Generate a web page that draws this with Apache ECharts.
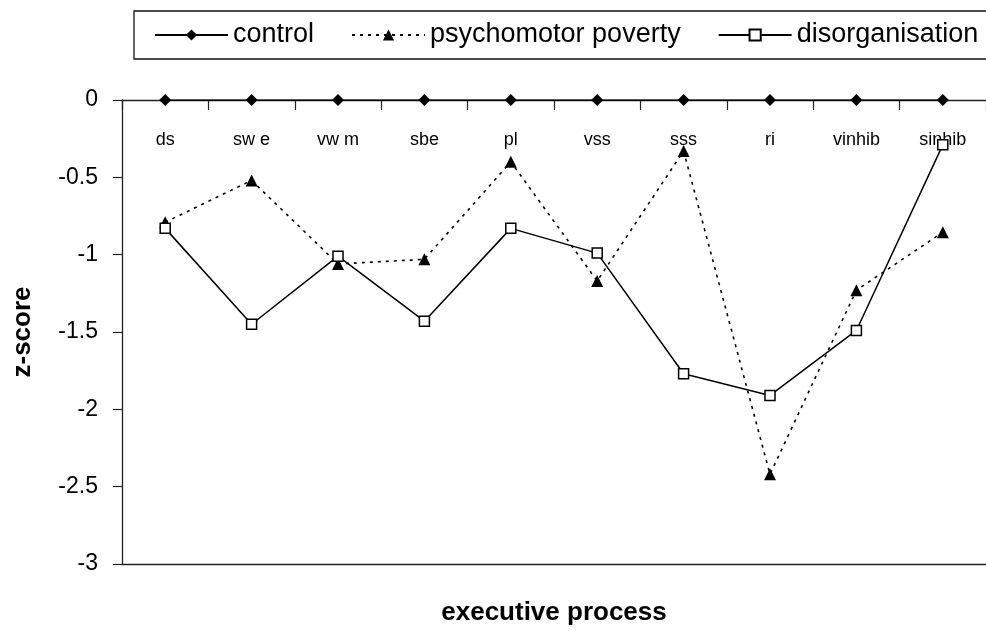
<!DOCTYPE html>
<html>
<head>
<meta charset="utf-8">
<script src="https://cdn.jsdelivr.net/npm/echarts@6/dist/echarts.min.js"></script>
<style>html,body{margin:0;padding:0;background:#fff;}#c{width:986px;height:631px;}</style>
</head>
<body>
<div id="c"></div>
<script>
var categories = ['ds', 'sw e', 'vw m', 'sbe', 'pl', 'vss', 'sss', 'ri', 'vinhib', 'sinhib'];
var control = [0, 0, 0, 0, 0, 0, 0, 0, 0, 0];
var psychomotorPoverty = [-0.79, -0.52, -1.06, -1.03, -0.40, -1.17, -0.33, -2.42, -1.23, -0.855];
var disorganisation = [-0.83, -1.45, -1.01, -1.43, -0.83, -0.99, -1.77, -1.91, -1.49, -0.29];
var yTicks = { min: -3, max: 0, interval: 0.5 };

var FONT = 'Liberation Sans';
var AX = '#222';
var chart = echarts.init(document.getElementById('c'));
chart.setOption({
  animation: false,
  backgroundColor: '#fff',
  textStyle: { fontFamily: FONT, color: '#000' },
  legend: {
    left: 134, top: 11, width: 1200,
    orient: 'horizontal',
    padding: [10, 20, 10, 20],
    borderColor: '#111', borderWidth: 1.3,
    itemWidth: 73, itemHeight: 14, itemGap: 37,
    textStyle: { fontFamily: FONT, fontSize: 27, color: '#000', lineHeight: 28 },
    data: ['control', 'psychomotor poverty', 'disorganisation']
  },
  grid: { left: 122, top: 100, right: -7, bottom: 62, containLabel: false },
  xAxis: [{
    type: 'category',
    data: categories,
    position: 'top',
    boundaryGap: true,
    axisLine: { onZero: false, lineStyle: { color: AX, width: 1.3 } },
    axisTick: { show: true, inside: true, length: 10, lineStyle: { color: AX, width: 1.2 } },
    axisLabel: { inside: true, fontFamily: FONT, fontSize: 18, color: '#000', margin: 31 },
    splitLine: { show: false }
  }, {
    type: 'category',
    data: categories,
    position: 'bottom',
    axisLine: { onZero: false, lineStyle: { color: AX, width: 1.3 } },
    axisTick: { show: false },
    axisLabel: { show: false },
    name: 'executive process',
    nameLocation: 'middle',
    nameGap: 36,
    nameTextStyle: { fontFamily: FONT, fontSize: 26, fontWeight: 'bold', color: '#000' }
  }],
  yAxis: {
    type: 'value',
    min: yTicks.min, max: yTicks.max, interval: yTicks.interval,
    axisLine: { show: true, lineStyle: { color: AX, width: 1.3 } },
    axisTick: { show: true, length: 9, lineStyle: { color: AX, width: 1.2 } },
    axisLabel: { fontFamily: FONT, fontSize: 23, color: '#000', margin: 24 },
    splitLine: { show: false },
    name: 'z-score',
    nameLocation: 'middle',
    nameGap: 86,
    nameTextStyle: { fontFamily: FONT, fontSize: 26, fontWeight: 'bold', color: '#000' }
  },
  series: [{
    name: 'control', type: 'line', data: control,
    symbol: 'diamond', symbolSize: 12,
    lineStyle: { color: '#000', width: 1.5 },
    itemStyle: { color: '#000' }
  }, {
    name: 'psychomotor poverty', type: 'line', data: psychomotorPoverty,
    symbol: 'triangle', symbolSize: 12,
    lineStyle: { color: '#000', width: 1.6, type: [3, 5] },
    itemStyle: { color: '#000' }
  }, {
    name: 'disorganisation', type: 'line', data: disorganisation,
    symbol: 'rect', symbolSize: 10,
    lineStyle: { color: '#000', width: 1.5 },
    itemStyle: { color: '#fff', borderColor: '#000', borderWidth: 1.5 }
  }]
});
</script>
</body>
</html>
